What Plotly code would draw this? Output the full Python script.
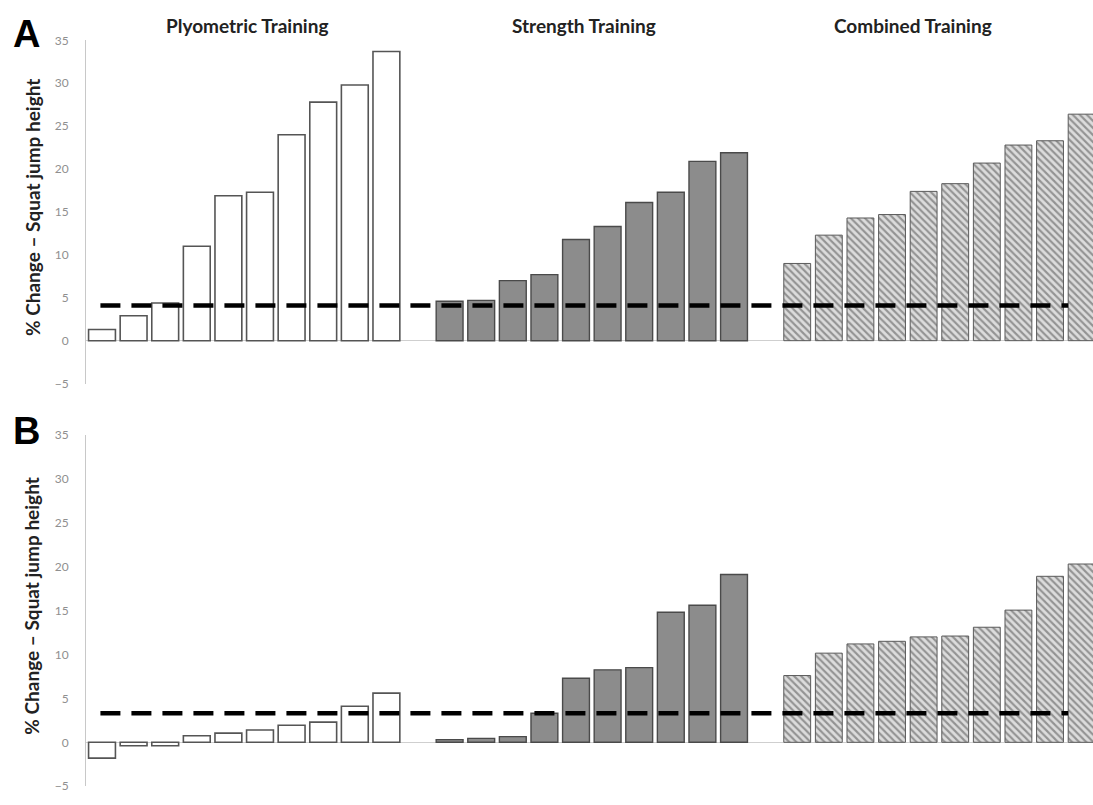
import numpy as np
import plotly.graph_objects as go

# ---------------- data ----------------
group_names = ["Plyometric Training", "Strength Training", "Combined Training"]

a_plyometric = [1.3, 2.9, 4.4, 11.0, 16.9, 17.3, 24.0, 27.8, 29.8, 33.7]
a_strength = [4.6, 4.7, 7.0, 7.7, 11.8, 13.3, 16.1, 17.3, 20.9, 21.9]
a_combined = [9.0, 12.3, 14.3, 14.7, 17.4, 18.3, 20.7, 22.8, 23.3, 26.4]

b_plyometric = [-1.8, -0.4, -0.4, 0.75, 1.05, 1.4, 1.95, 2.3, 4.1, 5.6]
b_strength = [0.3, 0.45, 0.65, 3.3, 7.3, 8.25, 8.5, 14.8, 15.6, 19.1]
b_combined = [7.6, 10.15, 11.2, 11.5, 12.0, 12.1, 13.1, 15.05, 18.9, 20.3]

threshold_a = 4.1
threshold_b = 3.3

y_tick_values = [-5, 0, 5, 10, 15, 20, 25, 30, 35]
y_title = "% Change – Squat jump height"
panel_labels = ["A", "B"]

# ---------------- layout helpers ----------------
W, H = 1093, 805
n_per = 10
gap = 1
x_ply = np.arange(n_per)
x_str = x_ply + n_per + gap
x_com = x_str + n_per + gap
x_range = [-0.5, 31.36]
bar_w = 0.85

def py(px):  # pixel from top -> paper y
    return 1 - px / H

def px_x(px):
    return px / W

styles = [
    dict(color="white", line=dict(color="#555555", width=1.6)),
    dict(color="#8c8c8c", line=dict(color="#4a4a4a", width=1.4)),
    dict(color="#dcdcdc", line=dict(color="#5a5a5a", width=1.0),
         pattern=dict(shape="\\", fgcolor="#4a4a4a", bgcolor="#dcdcdc", size=5, solidity=0.42)),
]

fig = go.Figure()

panels = [
    ("x", "y", [a_plyometric, a_strength, a_combined], threshold_a),
    ("x2", "y2", [b_plyometric, b_strength, b_combined], threshold_b),
]
for xa, ya, series, thr in panels:
    for xs, vals, st in zip([x_ply, x_str, x_com], series, styles):
        fig.add_trace(go.Bar(x=xs, y=vals, width=bar_w, marker=st,
                             xaxis=xa, yaxis=ya, showlegend=False, hoverinfo="y"))
    fig.add_trace(go.Scatter(x=[-0.05, 30.575], y=[thr, thr], mode="lines",
                             line=dict(color="black", width=4.5, dash="20px,11px"),
                             xaxis=xa, yaxis=ya, showlegend=False, hoverinfo="skip"))

# pixel geometry of the two plot areas
A_top, A_bot = 33, 382.7
B_top, B_bot = 435, 793
x_left = 86.2

axis_common = dict(range=[-5, 35], tickvals=y_tick_values, showgrid=False,
                   showline=True, linecolor="#c8c8c8", linewidth=1.2,
                   zeroline=True, zerolinecolor="#cfcfcf", zerolinewidth=1.2,
                   ticks="", ticklabelstandoff=14,
                   tickfont=dict(family="Lato", size=12, color="#8f8f8f"), fixedrange=True)
xaxis_common = dict(range=x_range, showgrid=False, showline=False, zeroline=False,
                    showticklabels=False, ticks="", fixedrange=True,
                    domain=[px_x(x_left), 1.0])

fig.update_layout(
    width=W, height=H,
    margin=dict(l=0, r=0, t=0, b=0),
    paper_bgcolor="white", plot_bgcolor="white",
    bargap=0.15,
    xaxis=dict(**xaxis_common, anchor="y"),
    xaxis2=dict(**xaxis_common, anchor="y2"),
    yaxis=dict(**axis_common, domain=[py(A_bot), py(A_top)], anchor="x"),
    yaxis2=dict(**axis_common, domain=[py(B_bot), py(B_top)], anchor="x2"),
)

annotations = []
# group titles
for name, cx in zip(group_names, [247, 584, 913]):
    annotations.append(dict(text="<b>%s</b>" % name, x=px_x(cx), y=py(18), xref="paper", yref="paper",
                            showarrow=False, xanchor="center", yanchor="middle",
                            font=dict(family="Lato", size=19, color="#222222")))
# panel letters
for lab, cy in zip(panel_labels, [26, 431]):
    annotations.append(dict(text="<b>%s</b>" % lab, x=px_x(26), y=py(cy), xref="paper", yref="paper",
                            showarrow=False, xanchor="center", yanchor="middle",
                            font=dict(family="Liberation Sans", size=38, color="black")))
# y titles
for top, bot in [(A_top, A_bot), (B_top, B_bot)]:
    annotations.append(dict(text="<b>%s</b>" % y_title, x=px_x(32), y=py((top + bot) / 2 - 4),
                            xref="paper", yref="paper", showarrow=False, textangle=-90,
                            xanchor="center", yanchor="middle",
                            font=dict(family="Lato", size=19, color="#222222")))
fig.update_layout(annotations=annotations)

fig.write_html("out.html")
